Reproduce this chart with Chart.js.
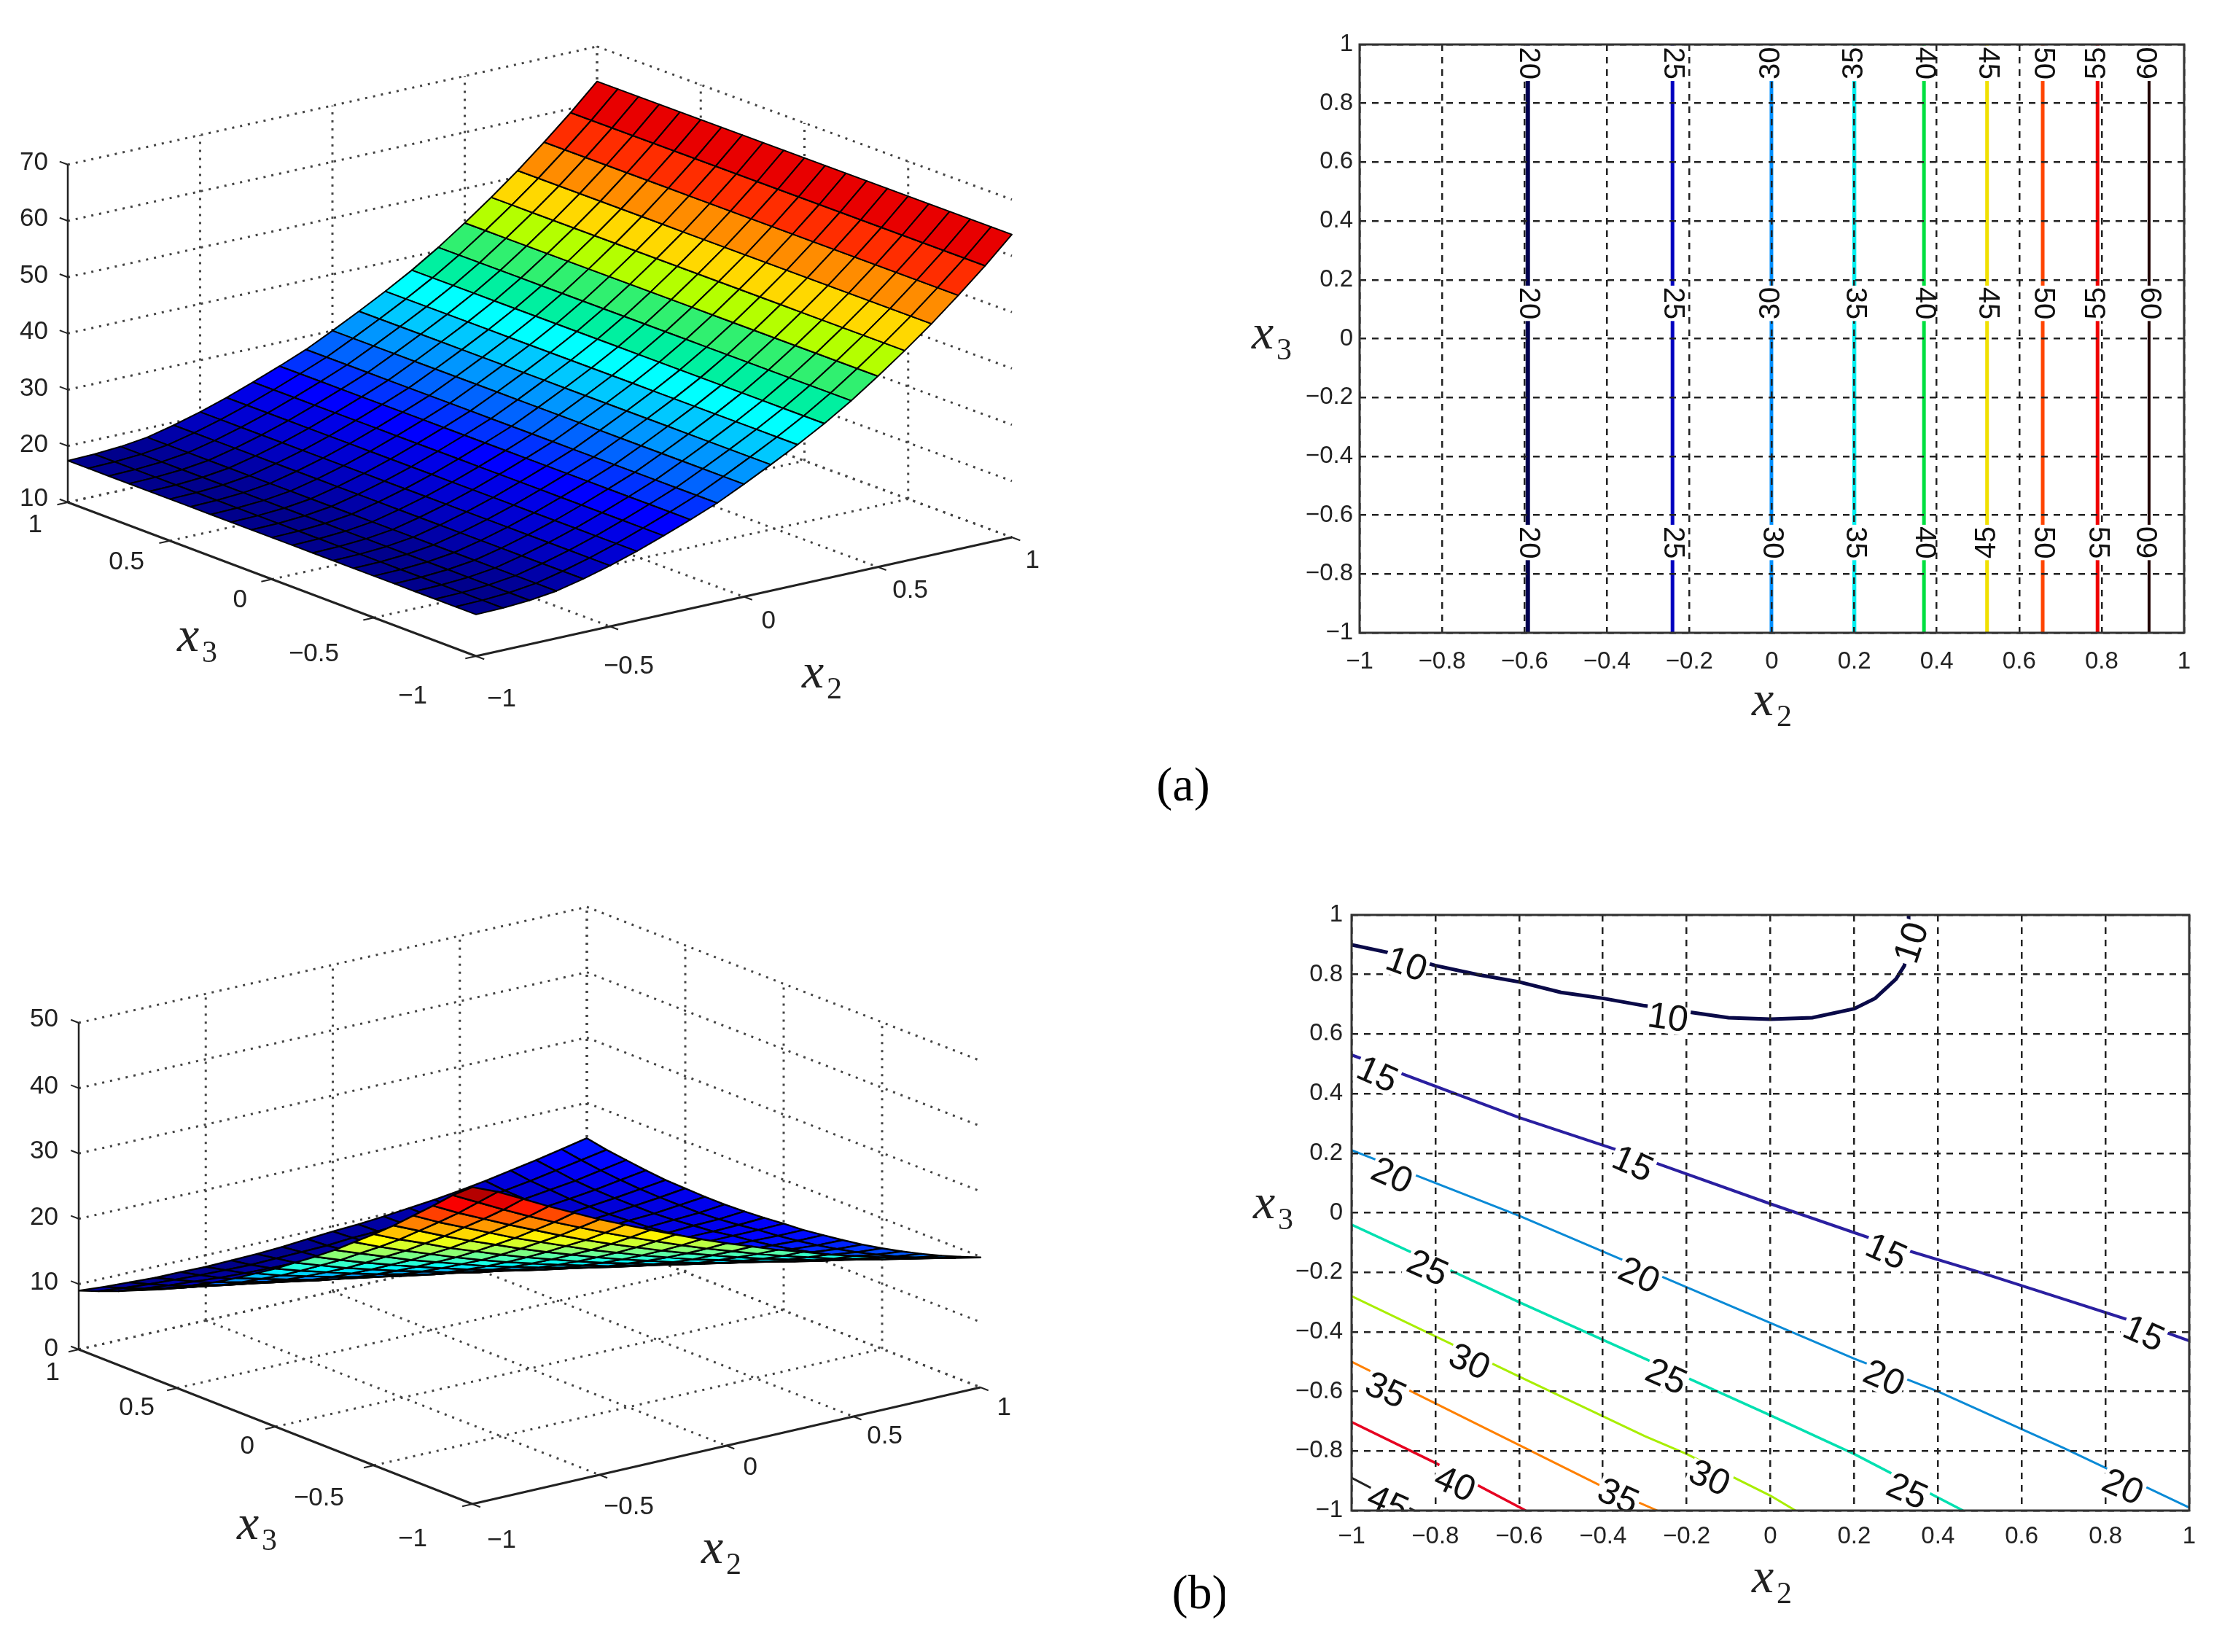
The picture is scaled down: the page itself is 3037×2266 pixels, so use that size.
<!DOCTYPE html>
<html>
<head>
<meta charset="utf-8">
<style>
html,body{margin:0;padding:0;background:#fff;width:3037px;height:2266px;overflow:hidden}
canvas{position:absolute;display:block}
</style>
<script src="https://cdn.jsdelivr.net/npm/chart.js@4/dist/chart.umd.min.js"></script>
</head>
<body>
<canvas id="surfA"></canvas>
<canvas id="contA"></canvas>
<canvas id="surfB"></canvas>
<canvas id="contB"></canvas>
<script>
/* ---------- data ---------- */
const x2Grid = [-1,-0.9,-0.8,-0.7,-0.6,-0.5,-0.4,-0.3,-0.2,-0.1,0,0.1,0.2,0.3,0.4,0.5,0.6,0.7,0.8,0.9,1];
const x3Grid = [1,0.9,0.8,0.7,0.6,0.5,0.4,0.3,0.2,0.1,0,-0.1,-0.2,-0.3,-0.4,-0.5,-0.6,-0.7,-0.8,-0.9,-1];
const boxTicks = [-1,-0.5,0,0.5,1];
const zTicksA = [10,20,30,40,50,60,70];
const zTicksB = [0,10,20,30,40,50];

/* panel (a) surface: height depends on x2 only */
const surfaceAByX2 = [17.4,17.5,17.8,18.4,19.5,20.8,22.3,24.0,25.8,27.7,30.0,32.4,34.9,37.6,40.6,43.9,47.4,51.1,55.1,59.3,63.8];
const bandColorsA = ['#00008c','#00008c','#000096','#0000a8','#0000be','#0000d2','#0000e6','#0000ff','#0032ff','#0064ff','#0096ff','#00c8ff','#00ffff','#00f0a0','#30f070','#b4ff00','#ffd800','#ff8c00','#ff2d00','#e80000'];

/* panel (b) surface: rows follow x3Grid, columns follow x2Grid */
const surfaceB = [
[9.0,8.7,8.5,8.3,8.3,8.2,8.3,8.4,8.6,8.9,9.2,9.4,9.7,10.1,10.5,11.0,11.6,12.3,13.0,13.8,14.6],
[10.1,9.7,9.4,9.2,9.0,8.9,8.8,8.9,9.0,9.1,9.4,9.5,9.8,10.1,10.4,10.8,11.3,11.9,12.6,13.3,14.0],
[11.3,10.8,10.4,10.1,9.8,9.6,9.5,9.4,9.4,9.5,9.7,9.7,9.9,10.1,10.4,10.8,11.2,11.7,12.2,12.9,13.6],
[12.6,12.0,11.5,11.1,10.7,10.4,10.2,10.1,10.0,10.0,10.0,10.0,10.1,10.3,10.5,10.7,11.1,11.5,12.0,12.6,13.2],
[13.9,13.3,12.7,12.2,11.7,11.3,11.0,10.8,10.6,10.5,10.5,10.4,10.4,10.5,10.6,10.8,11.1,11.5,11.9,12.4,12.9],
[15.4,14.7,14.0,13.4,12.8,12.4,12.0,11.6,11.4,11.2,11.1,10.9,10.8,10.8,10.9,11.0,11.2,11.5,11.9,12.3,12.8],
[17.0,16.1,15.4,14.7,14.0,13.5,13.0,12.6,12.2,11.9,11.7,11.5,11.4,11.3,11.3,11.3,11.5,11.7,11.9,12.3,12.7],
[18.6,17.7,16.9,16.1,15.3,14.7,14.1,13.6,13.2,12.8,12.5,12.2,12.0,11.8,11.7,11.7,11.8,11.9,12.1,12.3,12.7],
[20.4,19.4,18.4,17.5,16.7,16.0,15.3,14.7,14.2,13.7,13.3,13.0,12.7,12.4,12.3,12.2,12.2,12.2,12.4,12.5,12.8],
[22.3,21.1,20.1,19.1,18.2,17.4,16.6,15.9,15.3,14.7,14.3,13.8,13.5,13.2,12.9,12.8,12.7,12.7,12.7,12.8,13.0],
[24.2,23.0,21.9,20.8,19.8,18.9,18.0,17.3,16.5,15.9,15.3,14.8,14.4,14.0,13.7,13.4,13.3,13.2,13.2,13.2,13.3],
[26.3,25.0,23.7,22.6,21.5,20.5,19.5,18.7,17.9,17.1,16.4,15.8,15.3,14.8,14.4,14.1,13.9,13.7,13.6,13.5,13.5],
[28.4,27.0,25.7,24.5,23.3,22.2,21.1,20.2,19.3,18.4,17.7,17.0,16.4,15.8,15.3,14.9,14.6,14.3,14.1,13.9,13.9],
[30.6,29.2,27.8,26.4,25.2,24.0,22.8,21.8,20.8,19.9,19.0,18.2,17.5,16.9,16.3,15.8,15.3,15.0,14.7,14.4,14.3],
[33.0,31.4,29.9,28.5,27.1,25.8,24.6,23.5,22.4,21.4,20.4,19.6,18.8,18.0,17.3,16.7,16.2,15.8,15.4,15.0,14.8],
[35.4,33.7,32.2,30.6,29.2,27.8,26.5,25.3,24.1,23.0,22.0,21.0,20.1,19.3,18.5,17.8,17.2,16.6,16.2,15.7,15.4],
[37.9,36.2,34.5,32.9,31.4,29.9,28.5,27.2,25.9,24.7,23.6,22.5,21.5,20.6,19.8,19.0,18.3,17.6,17.1,16.5,16.1],
[40.6,38.7,37.0,35.3,33.6,32.1,30.6,29.1,27.8,26.5,25.3,24.1,23.1,22.1,21.1,20.2,19.4,18.7,18.0,17.4,16.9],
[43.3,41.3,39.5,37.7,36.0,34.3,32.7,31.2,29.8,28.4,27.1,25.9,24.7,23.6,22.6,21.6,20.7,19.9,19.1,18.4,17.8],
[46.1,44.1,42.1,40.2,38.4,36.7,35.0,33.4,31.9,30.4,29.0,27.7,26.4,25.2,24.1,23.0,22.1,21.1,20.3,19.5,18.8],
[48.5,46.9,44.9,42.9,41.0,39.1,37.4,35.7,34.1,32.5,31.0,29.6,28.2,27.0,25.7,24.6,23.5,22.5,21.6,20.7,19.9]
];

/* contour plots */
const levelsA = [20,25,30,35,40,45,50,55,60];
const levelX2A = [-0.592,-0.241,-0.001,0.2,0.369,0.522,0.657,0.79,0.915];
const levelColorsA = ['#000050','#0000c0','#0090ff','#00f0f0','#00e040','#f0e000','#ff4500','#f00000','#200000'];
const levelWidthsA = [6,5,5,5.5,5,5,5,5,4];
const labelRowsA = [0.936,0.12,-0.693];
/* rotation sense of each in-line label: 1 reads downwards, -1 reads upwards */
const labelTurnA = [
  [1,1,-1,-1,1,1,1,-1,-1],
  [1,1,-1,1,1,1,1,-1,1],
  [1,1,1,1,1,-1,1,1,-1]
];

const level10B = [[-1,0.9],[-0.9,0.87],[-0.8,0.83],[-0.7,0.8],[-0.6,0.775],[-0.5,0.74],[-0.4,0.72],[-0.3,0.695],[-0.2,0.675],[-0.1,0.655],[0,0.65],[0.1,0.655],[0.2,0.685],[0.25,0.72],[0.3,0.785],[0.32,0.83],[0.33,0.9],[0.33,1]];
const level15B = [[-1,0.53],[-0.6,0.32],[-0.3,0.18],[0,0.03],[0.3,-0.115],[0.5,-0.2],[0.7,-0.29],[0.9,-0.38],[1,-0.43]];
const level20B = [[-1,0.21],[-0.6,-0.01],[-0.3,-0.19],[0,-0.37],[0.2,-0.49],[0.4,-0.6],[0.7,-0.79],[1,-0.99]];
const level25B = [[-1,-0.04],[-0.6,-0.3],[-0.3,-0.49],[0,-0.68],[0.2,-0.81],[0.46,-1]];
const level30B = [[-1,-0.28],[-0.6,-0.55],[-0.3,-0.75],[-0.2,-0.81],[0,-0.95],[0.06,-1]];
const level35B = [[-1,-0.5],[-0.6,-0.78],[-0.4,-0.92],[-0.27,-1]];
const level40B = [[-1,-0.703],[-0.8,-0.84],[-0.584,-1]];
const level45B = [[-1,-0.89],[-0.85,-1]];
const levelLinesB = [level10B,level15B,level20B,level25B,level30B,level35B,level40B,level45B];
const levelNamesB = ['10','15','20','25','30','35','40','45'];
const levelColorsB = ['#0a0a48','#2a1fa0','#0a8ad6','#00e0b0','#a8ee00','#ff8000','#e60020','#222222'];
const levelWidthsB = [5,4,3,3.5,3,3,3.5,3];
/* in-line labels: text, x2, x3, rotation in degrees */
const labelsB = [
  ['10',-0.87,0.83,20],['10',-0.245,0.65,8],['10',0.34,0.905,-72],
  ['15',-0.94,0.46,24],['15',-0.33,0.16,24],['15',0.275,-0.135,24],['15',0.89,-0.41,24],
  ['20',-0.905,0.12,24],['20',-0.315,-0.215,24],['20',0.27,-0.56,24],['20',0.84,-0.925,24],
  ['25',-0.82,-0.19,24],['25',-0.25,-0.555,24],['25',0.325,-0.94,24],
  ['30',-0.72,-0.505,24],['30',-0.147,-0.895,24],
  ['35',-0.92,-0.6,24],['35',-0.365,-0.957,24],
  ['40',-0.755,-0.915,24],['45',-0.915,-0.98,24]
];

/* ---------- layout and style (page pixels) ---------- */
const layoutA = {canvas:{l:0,t:0,w:1680,h:1150},
  F:[653,900],R:[1388,737],L:[93,689],B:[819,527],zBase:10,zTop:70,zPx:7.72,depthZ:0.0317,edge:2};
const layoutB = {canvas:{l:0,t:1150,w:1680,h:1116},
  F:[648,2063],R:[1345,1903],L:[108,1851],B:[805,1692],zBase:0,zTop:50,zPx:8.96,depthZ:0.0387,edge:2.4};
const textsA = [
  ['70',66,223],['60',66,300],['50',66,378],['40',66,455],['30',66,533],['20',66,610],['10',66,684],
  ['1',58,720],['0.5',198,771],['0',339,823],['\u22120.5',465,897],['\u22121',586,955],
  ['\u22121',708,959],['\u22120.5',897,914],['0',1064,852],['0.5',1273,810],['1',1426,769]];
const textsB = [
  ['50',80,1398],['40',80,1490],['30',80,1579],['20',80,1670],['10',80,1759],['0',80,1850],
  ['1',82,1883],['0.5',212,1931],['0',349,1984],['\u22120.5',472,2055],['\u22121',586,2111],
  ['\u22121',708,2113],['\u22120.5',897,2067],['0',1039,2013],['0.5',1238,1970],['1',1387,1931]];
const mathA = [[243,893,'3'],[1100,943,'2']];
const mathB = [[325,2111,'3'],[962,2144,'2']];
const captionA = ['(a)',1623,1081];
const captionB = ['(b)',1646,2189];
const SANS = '"Liberation Sans", Arial, sans-serif';
const SERIF = '"Liberation Serif", "Times New Roman", serif';
const INK = '#222';

function drawMath(ctx, px, py, sub){
  ctx.save();
  ctx.fillStyle = '#222';
  ctx.textAlign = 'left';
  ctx.textBaseline = 'alphabetic';
  ctx.font = 'italic 68px ' + SERIF;
  ctx.fillText('x', px, py);
  ctx.font = '42px ' + SERIF;
  ctx.fillText(sub, px + 34, py + 15);
  ctx.restore();
}

function jet(t){
  const c = v => Math.round(255 * Math.max(0, Math.min(1, v)));
  return 'rgb(' + c(Math.min(4*t-1.5, -4*t+4.5)) + ',' + c(Math.min(4*t-0.5, -4*t+3.5)) + ',' + c(Math.min(4*t+0.5, -4*t+2.5)) + ')';
}

function sizeCanvas(id, box){
  const cv = document.getElementById(id);
  cv.width = box.w; cv.height = box.h;
  cv.style.left = box.l + 'px'; cv.style.top = box.t + 'px';
  cv.style.width = box.w + 'px'; cv.style.height = box.h + 'px';
  return cv;
}

/* ---------- 3-D panels: a scatter chart whose scales are the view plane ---------- */
function surfaceChart(id, lay, heightAt, colorAt, zTicks, texts, maths, caption){
  const box = lay.canvas;
  const project = (x2, x3, z) => {
    const u = (x2 + 1) / 2, v = (x3 + 1) / 2;
    const mix = k => (1-u)*(1-v)*lay.F[k] + u*(1-v)*lay.R[k] + (1-u)*v*lay.L[k] + u*v*lay.B[k];
    return {x: mix(0), y: mix(1) - (z - lay.zBase) * lay.zPx};
  };
  const quads = [];
  for (let i = 0; i < x3Grid.length - 1; i++) {
    for (let j = 0; j < x2Grid.length - 1; j++) {
      const corners = [[j,i],[j+1,i],[j+1,i+1],[j,i+1]].map(([c,r]) => [x2Grid[c], x3Grid[r], heightAt(r,c)]);
      const depth = corners.reduce((s,p) => s + p[0] + 1.3*p[1] - lay.depthZ*p[2], 0) / 4;
      const meanZ = corners.reduce((s,p) => s + p[2], 0) / 4;
      const pts = corners.map(p => project(p[0], p[1], p[2]));
      pts.push({x: pts[0].x, y: pts[0].y});
      quads.push({depth, data: pts, color: colorAt(i, j, meanZ)});
    }
  }
  quads.sort((a,b) => a.depth - b.depth);   // first dataset is painted last, so nearest goes first
  const datasets = quads.map(q => ({
    data: q.data, showLine: true, pointRadius: 0, tension: 0, fill: 'shape',
    backgroundColor: q.color, borderColor: '#000', borderWidth: lay.edge, borderJoinStyle: 'round'
  }));
  const zMin = lay.zBase, zMax = lay.zTop;
  const dotted = (a, b) => datasets.push({data:[project(...a), project(...b)], showLine:true, pointRadius:0,
    borderColor:'#444', borderWidth:3, borderDash:[3,8], fill:false});
  const solid = (a, b, w) => datasets.push({data:[project(...a), project(...b)], showLine:true, pointRadius:0,
    borderColor:INK, borderWidth:w, fill:false});
  // axes and tick marks first so they sit over the dotted grid
  solid([-1,1,zMin],[-1,1,zMax],2.5);
  solid([-1,1,zMin],[-1,-1,zMin],3);
  solid([-1,-1,zMin],[1,-1,zMin],3);
  zTicks.forEach(z => solid([-1,1,z],[-1,1.04,z],2));
  boxTicks.forEach(t => { solid([-1,t,zMin],[-1.04,t,zMin],2); solid([t,-1,zMin],[t,-1.04,zMin],2); });
  zTicks.forEach(z => { dotted([-1,1,z],[1,1,z]); dotted([1,1,z],[1,-1,z]); });
  boxTicks.forEach(t => {
    if (t > -1) dotted([t,1,zMin],[t,1,zMax]);
    if (t > -1) dotted([1,t,zMin],[1,t,zMax]);
    if (t > -1) dotted([t,1,zMin],[t,-1,zMin]);
    if (t > -1) dotted([-1,t,zMin],[1,t,zMin]);
  });
  new Chart(sizeCanvas(id, box), {
    type: 'scatter',
    data: {datasets},
    options: {
      responsive:false, animation:false, devicePixelRatio:1,
      layout:{padding:0},
      plugins:{legend:{display:false}, tooltip:{enabled:false}},
      events:[],
      scales:{
        x:{type:'linear', min:box.l, max:box.l+box.w, display:false},
        y:{type:'linear', min:box.t, max:box.t+box.h, reverse:true, display:false}
      }
    },
    plugins:[{id:'panelText', afterDraw(chart){
      const ctx = chart.ctx;
      ctx.save();
      ctx.translate(-box.l, -box.t);
      ctx.fillStyle = INK;
      ctx.textBaseline = 'middle';
      ctx.textAlign = 'right';
      ctx.font = '35px ' + SANS;
      texts.forEach(t => ctx.fillText(t[0], t[1], t[2]));
      maths.forEach(m => drawMath(ctx, m[0], m[1], m[2]));
      ctx.fillStyle = '#000';
      ctx.textAlign = 'center';
      ctx.font = '66px ' + SERIF;
      ctx.fillText(caption[0], caption[1], caption[2]);
      ctx.restore();
    }}]
  });
}

/* ---------- contour panels ---------- */
function tickText(v){
  const a = Math.abs(v) < 1e-9 ? 0 : v;
  if (a === 0) return '0';
  const s = Math.abs(Math.abs(a) - 1) < 1e-9 ? '1' : Math.abs(a).toFixed(1);
  return (a < 0 ? '\u2212' : '') + s;
}

function contourChart(id, box, plot, datasets, labels, labelFont, maths, xPad, yPad){
  const axis = (extra) => Object.assign({
    type:'linear', min:-1, max:1,
    border:{display:false, dash:[9,8]},
    grid:{color:'#222', lineWidth:2.5, z:1, drawTicks:false, tickLength:0},
  }, extra);
  const tickFont = {family:SANS, size:33};
  new Chart(sizeCanvas(id, box), {
    type:'scatter',
    data:{datasets},
    options:{
      responsive:false, animation:false, devicePixelRatio:1, events:[],
      layout:{padding:{left:0, top:plot.t-box.t, right:box.l+box.w-plot.r, bottom:0}},
      plugins:{legend:{display:false}, tooltip:{enabled:false}},
      scales:{
        x:axis({position:'bottom',
          ticks:{stepSize:0.2, autoSkip:false, maxRotation:0, minRotation:0, color:'#222', font:tickFont, padding:xPad, callback:tickText},
          afterFit(s){ s.height = box.t+box.h-plot.b; }}),
        y:axis({position:'left',
          ticks:{stepSize:0.2, autoSkip:false, color:'#222', font:tickFont, padding:yPad, callback:tickText},
          afterFit(s){ s.width = plot.l-box.l; }})
      }
    },
    plugins:[{id:'contourText', afterDraw(chart){
      const ctx = chart.ctx, a = chart.chartArea, sx = chart.scales.x, sy = chart.scales.y;
      ctx.save();
      ctx.beginPath(); ctx.rect(a.left, a.top, a.right-a.left, a.bottom-a.top); ctx.clip();
      ctx.font = labelFont + 'px ' + SANS;
      ctx.textAlign = 'center'; ctx.textBaseline = 'middle';
      labels.forEach(l => {
        ctx.save();
        ctx.translate(sx.getPixelForValue(l[1]), sy.getPixelForValue(l[2]));
        ctx.rotate(l[3]*Math.PI/180);
        const w = ctx.measureText(l[0]).width + 4, h = labelFont*0.78;
        ctx.fillStyle = '#fff'; ctx.fillRect(-w/2, -h/2, w, h);
        ctx.fillStyle = '#111'; ctx.fillText(l[0], 0, 0);
        ctx.restore();
      });
      ctx.restore();
      ctx.save();
      ctx.strokeStyle = '#333'; ctx.lineWidth = 3;
      ctx.strokeRect(a.left, a.top, a.right-a.left, a.bottom-a.top);
      ctx.translate(-box.l, -box.t);
      maths.forEach(m => drawMath(ctx, m[0], m[1], m[2]));
      ctx.restore();
    }}]
  });
}

/* ---------- build ---------- */
surfaceChart('surfA', layoutA, (r,c) => surfaceAByX2[c], (i,j) => bandColorsA[j],
  zTicksA, textsA, mathA, captionA);
surfaceChart('surfB', layoutB, (r,c) => surfaceB[r][c], (i,j,m) => jet((m-8.2)/(48.5-8.2)),
  zTicksB, textsB, mathB, captionB);

const setsA = levelX2A.map((x,k) => ({
  label:String(levelsA[k]), data:[{x,y:-1},{x,y:1}], showLine:true, pointRadius:0,
  borderColor:levelColorsA[k], borderWidth:levelWidthsA[k], fill:false
}));
const labelsA = [];
labelRowsA.forEach((row,r) => levelX2A.forEach((x,k) => labelsA.push([String(levelsA[k]), x, row, 90*labelTurnA[r][k]])));
contourChart('contA', {l:1690,t:20,w:1347,h:1010}, {l:1865,t:61,r:2996,b:868}, setsA, labelsA, 40,
  [[1717,478,'3'],[2403,981,'2']], 20, 9);

const setsB = levelLinesB.map((line,k) => ({
  label:levelNamesB[k], data:line.map(p => ({x:p[0],y:p[1]})), showLine:true, pointRadius:0, tension:0,
  borderColor:levelColorsB[k], borderWidth:levelWidthsB[k], fill:false
}));
contourChart('contB', {l:1690,t:1220,w:1347,h:1020}, {l:1854,t:1255,r:3003,b:2072}, setsB, labelsB, 50,
  [[1719,1671,'3'],[2403,2184,'2']], 16, 12);
</script>
</body>
</html>
